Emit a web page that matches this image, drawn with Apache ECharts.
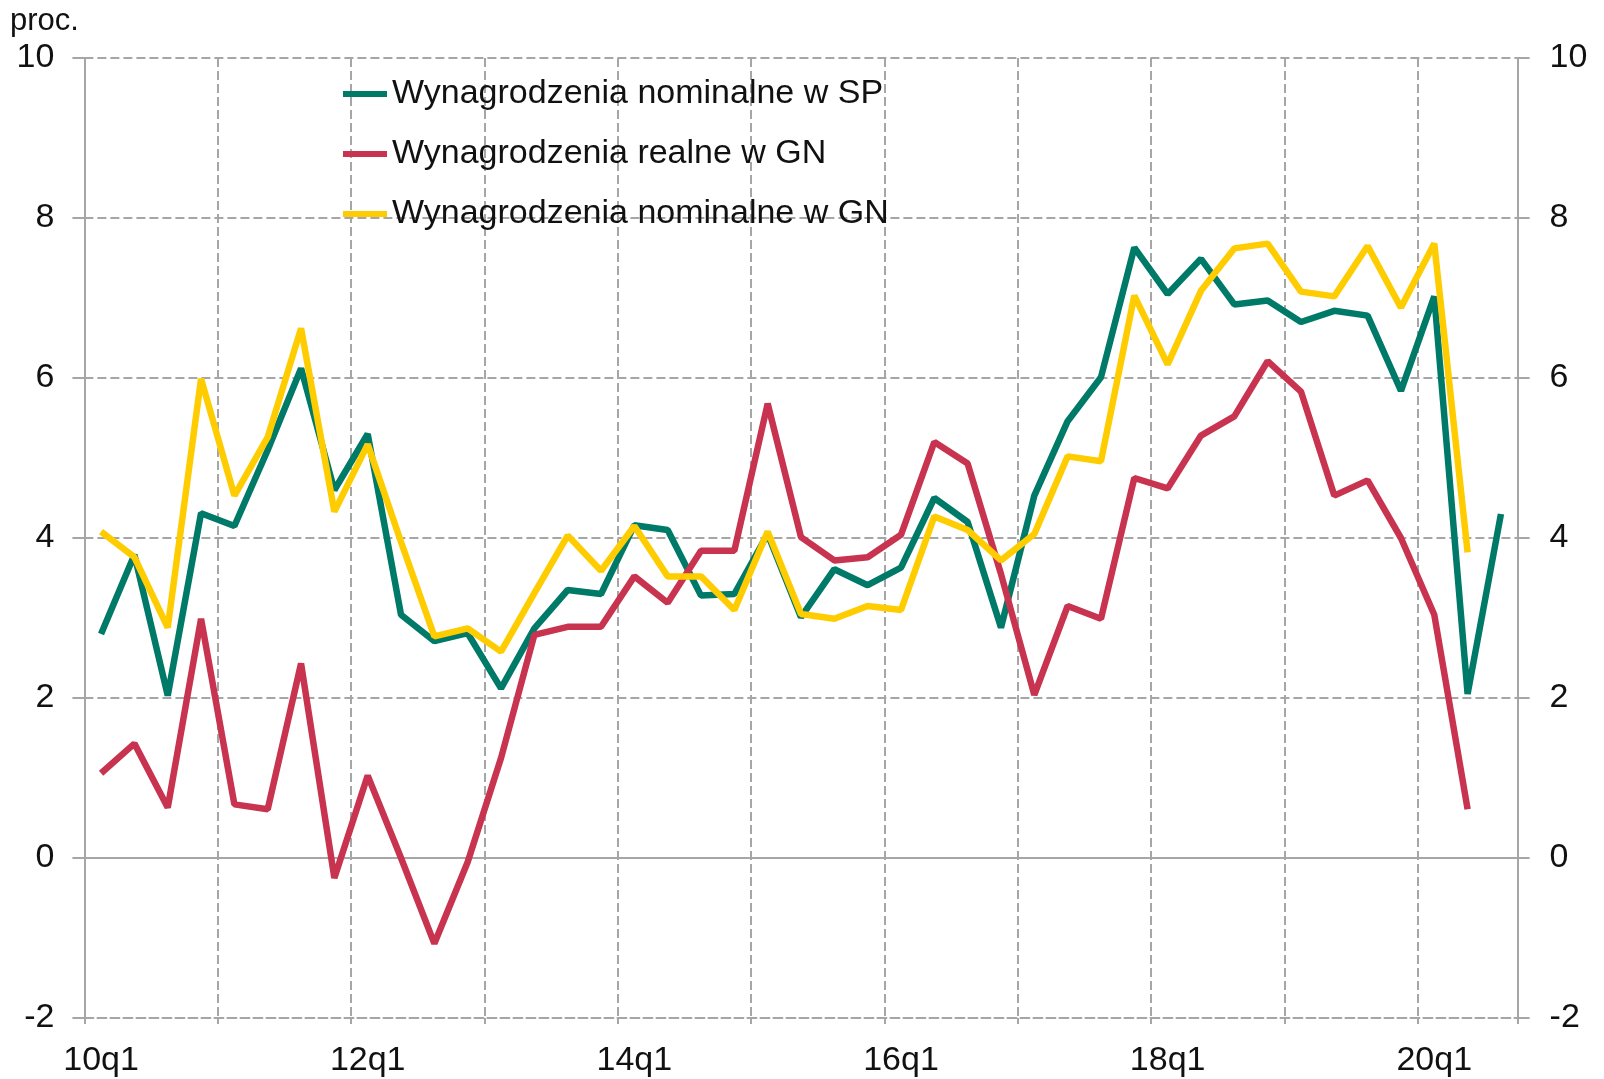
<!DOCTYPE html>
<html>
<head>
<meta charset="utf-8">
<script src="https://cdn.jsdelivr.net/npm/echarts@6/dist/echarts.min.js"></script>
<style>
html,body{margin:0;padding:0;background:#fff;}
#chart{width:1604px;height:1079px;}
</style>
</head>
<body>
<div id="chart"></div>
<script>
// Quarters 10q1 .. 20q3
const categories = [
  '10q1','10q2','10q3','10q4','11q1','11q2','11q3','11q4',
  '12q1','12q2','12q3','12q4','13q1','13q2','13q3','13q4',
  '14q1','14q2','14q3','14q4','15q1','15q2','15q3','15q4',
  '16q1','16q2','16q3','16q4','17q1','17q2','17q3','17q4',
  '18q1','18q2','18q3','18q4','19q1','19q2','19q3','19q4',
  '20q1','20q2','20q3'
];
const nominalSP = [
  2.80, 3.79, 2.03, 4.31, 4.15, 5.10, 6.12, 4.60,
  5.30, 3.04, 2.71, 2.81, 2.12, 2.87, 3.35, 3.30,
  4.16, 4.10, 3.28, 3.30, 4.05, 3.01, 3.61, 3.41,
  3.63, 4.50, 4.20, 2.88, 4.53, 5.46, 6.01, 7.63,
  7.05, 7.49, 6.92, 6.97, 6.70, 6.84, 6.78, 5.84,
  7.02, 2.05, 4.30
];
const realGN = [
  1.06, 1.43, 0.63, 2.99, 0.67, 0.61, 2.43, -0.25,
  1.03, 0.00, -1.07, -0.05, 1.25, 2.79, 2.89, 2.89,
  3.52, 3.19, 3.84, 3.84, 5.68, 4.01, 3.72, 3.76,
  4.04, 5.20, 4.93, 3.55, 2.04, 3.15, 2.99, 4.75,
  4.62, 5.28, 5.52, 6.21, 5.83, 4.53, 4.72, 4.00,
  3.04, 0.61, null
];
const nominalGN = [
  4.08, 3.76, 2.88, 5.99, 4.53, 5.26, 6.62, 4.33,
  5.17, 3.95, 2.77, 2.87, 2.58, 3.31, 4.03, 3.59,
  4.15, 3.52, 3.52, 3.10, 4.08, 3.05, 2.99, 3.15,
  3.10, 4.27, 4.10, 3.72, 4.05, 5.02, 4.96, 7.03,
  6.17, 7.09, 7.62, 7.68, 7.08, 7.02, 7.65, 6.88,
  7.68, 3.82, null
];
const seriesNames = [
  'Wynagrodzenia nominalne w SP',
  'Wynagrodzenia realne w GN',
  'Wynagrodzenia nominalne w GN'
];
const yTicks = { min: -2, max: 10, interval: 2 };
const unitLabel = 'proc.';

const GRID = '#a6a6a6';
const FONT = '"Liberation Sans", Arial, sans-serif';
const TEXT = '#111';
const colors = ['#007a68', '#c8334f', '#ffcc00'];

const chart = echarts.init(document.getElementById('chart'), null, { renderer: 'canvas' });

const yCommon = {
  type: 'value',
  min: yTicks.min, max: yTicks.max, interval: yTicks.interval,
  axisLine: { show: true, lineStyle: { color: GRID, width: 2 } },
  axisTick: { show: true, length: 12, lineStyle: { color: GRID, width: 2 } },
  axisLabel: { fontSize: 34, color: TEXT, fontFamily: FONT, margin: 30 }
};

chart.setOption({
  animation: false,
  backgroundColor: '#fff',
  color: colors,
  textStyle: { fontFamily: FONT },
  grid: { left: 84.4, right: 86.4, top: 58, bottom: 61, containLabel: false },
  graphic: [{
    type: 'text', left: 10, top: 6,
    style: { text: unitLabel, fontSize: 31, fill: TEXT, fontFamily: FONT }
  }],
  legend: {
    data: seriesNames,
    orient: 'vertical',
    left: 343, top: 77,
    padding: 0,
    itemGap: 26,
    icon: 'rect',
    itemWidth: 44, itemHeight: 6,
    textStyle: { fontSize: 34, color: TEXT, fontFamily: FONT, lineHeight: 33 }
  },
  xAxis: [{
    type: 'category',
    data: categories,
    boundaryGap: true,
    axisLine: { show: true, onZero: false, lineStyle: { color: GRID, width: 2, type: [9, 4] } },
    axisTick: { show: true, interval: 3, length: 6, lineStyle: { color: GRID, width: 2 } },
    axisLabel: { interval: 7, fontSize: 34, color: TEXT, fontFamily: FONT, margin: 26 },
    splitLine: { show: true, interval: 3, lineStyle: { color: GRID, width: 2, type: [9, 4] } }
  }, {
    type: 'category',
    data: categories,
    boundaryGap: true,
    position: 'bottom',
    axisLine: { show: true, onZero: true, lineStyle: { color: GRID, width: 2 } },
    axisTick: { show: false },
    axisLabel: { show: false },
    splitLine: { show: false }
  }],
  yAxis: [
    Object.assign({}, yCommon, {
      position: 'left',
      splitLine: { show: true, lineStyle: { color: GRID, width: 2, type: [9, 4] } }
    }),
    Object.assign({}, yCommon, {
      position: 'right',
      axisLabel: { fontSize: 34, color: TEXT, fontFamily: FONT, margin: 32 },
      splitLine: { show: false }
    })
  ],
  series: [
    { name: seriesNames[0], type: 'line', data: nominalSP, symbol: 'none',
      lineStyle: { width: 6.5, color: colors[0] }, itemStyle: { color: colors[0] }, z: 3 },
    { name: seriesNames[1], type: 'line', data: realGN, symbol: 'none',
      lineStyle: { width: 6.5, color: colors[1] }, itemStyle: { color: colors[1] }, z: 4 },
    { name: seriesNames[2], type: 'line', data: nominalGN, symbol: 'none',
      lineStyle: { width: 6.5, color: colors[2] }, itemStyle: { color: colors[2] }, z: 5 }
  ]
});
</script>
</body>
</html>
